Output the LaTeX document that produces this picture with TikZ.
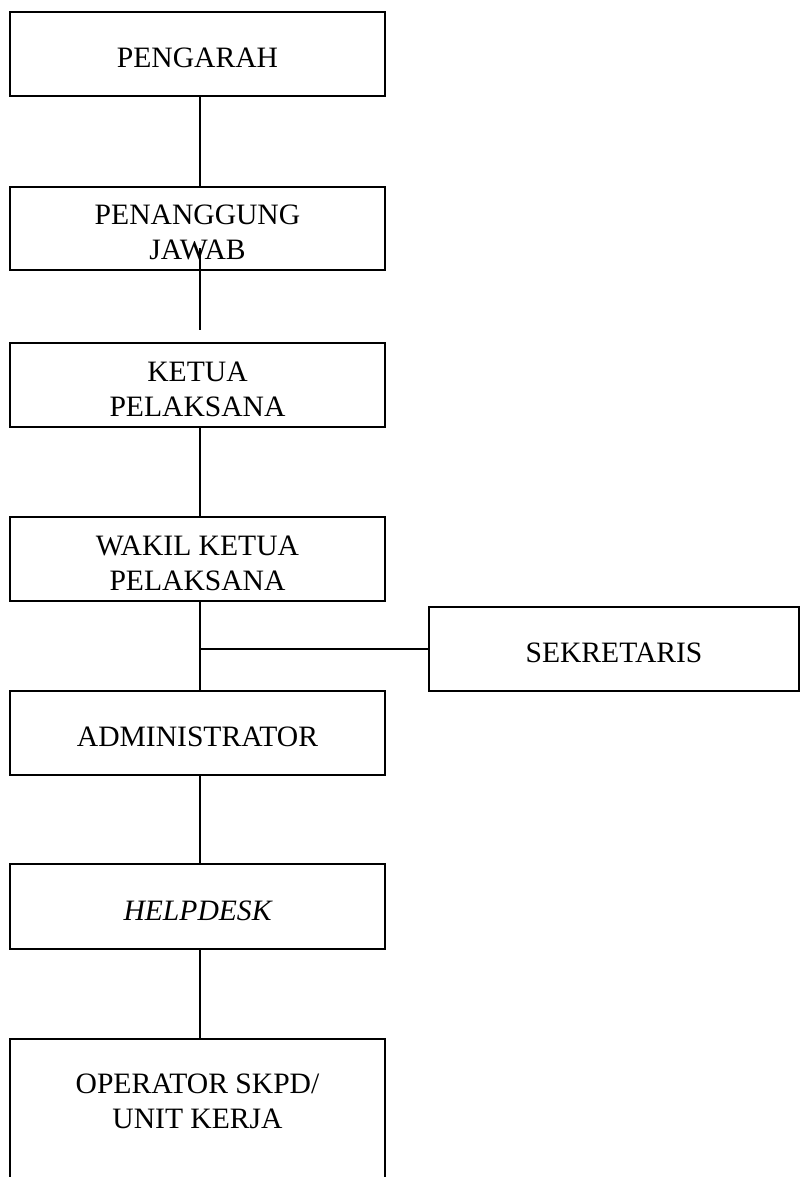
\documentclass[tikz,border=0pt]{standalone}
\usepackage{fontspec}
\setmainfont{Liberation Serif}
\newcommand\boxtext[1]{\raisebox{-6.5pt}[\height][\depth]{\begin{tabular}{@{}c@{}}#1\end{tabular}}}
\begin{document}
\begin{tikzpicture}[x=1pt,y=-1pt,
  orgfont/.style={font=\fontsize{29.6}{35}\selectfont},
  orgbox/.style={draw,line width=1.6pt,minimum width=375pt,minimum height=84pt,
    inner sep=0pt,align=center,orgfont},
  link/.style={line width=1.6pt}]
\useasboundingbox (0,0) rectangle (800,1177);
\clip (0,0) rectangle (800,1177);
\node[orgbox] (pengarah) at (197.5,54) {\boxtext{PENGARAH}};
\node[orgbox,minimum height=83pt] (pj) at (197.5,228.5) {\boxtext{PENANGGUNG\\JAWAB}};
\node[orgbox] (ketua) at (197.5,385) {\boxtext{KETUA\\PELAKSANA}};
\node[orgbox] (wakil) at (197.5,559) {\boxtext{WAKIL KETUA\\PELAKSANA}};
\node[orgbox,minimum width=370pt] (sek) at (614,649) {\boxtext{SEKRETARIS}};
\node[orgbox] (admin) at (197.5,733) {\boxtext{ADMINISTRATOR}};
\node[orgbox,minimum height=85pt] (help) at (197.5,906.5) {\boxtext{\itshape HELPDESK}};
\node[draw,line width=1.6pt,minimum width=375pt,minimum height=200pt,inner sep=0pt,anchor=north] (op) at (197.5,1038) {};
\node[align=center,orgfont,inner sep=0pt] (optext) at (197.5,1101) {OPERATOR SKPD/\\UNIT KERJA};
\coordinate (pjin) at (200,248);
\coordinate (pjend) at (200,330);
\coordinate (junc) at (200,649);
\draw[link] (pengarah.south -| pjin) -- (pj.north -| pjin);
\draw[link] (pjin) -- (pjend);
\draw[link] (ketua.south -| pjin) -- (wakil.north -| pjin);
\draw[link] (wakil.south -| pjin) -- (admin.north -| pjin);
\draw[link] (junc) -- (sek.west);
\draw[link] (admin.south -| pjin) -- (help.north -| pjin);
\draw[link] (help.south -| pjin) -- (op.north -| pjin);
\end{tikzpicture}
\end{document}
